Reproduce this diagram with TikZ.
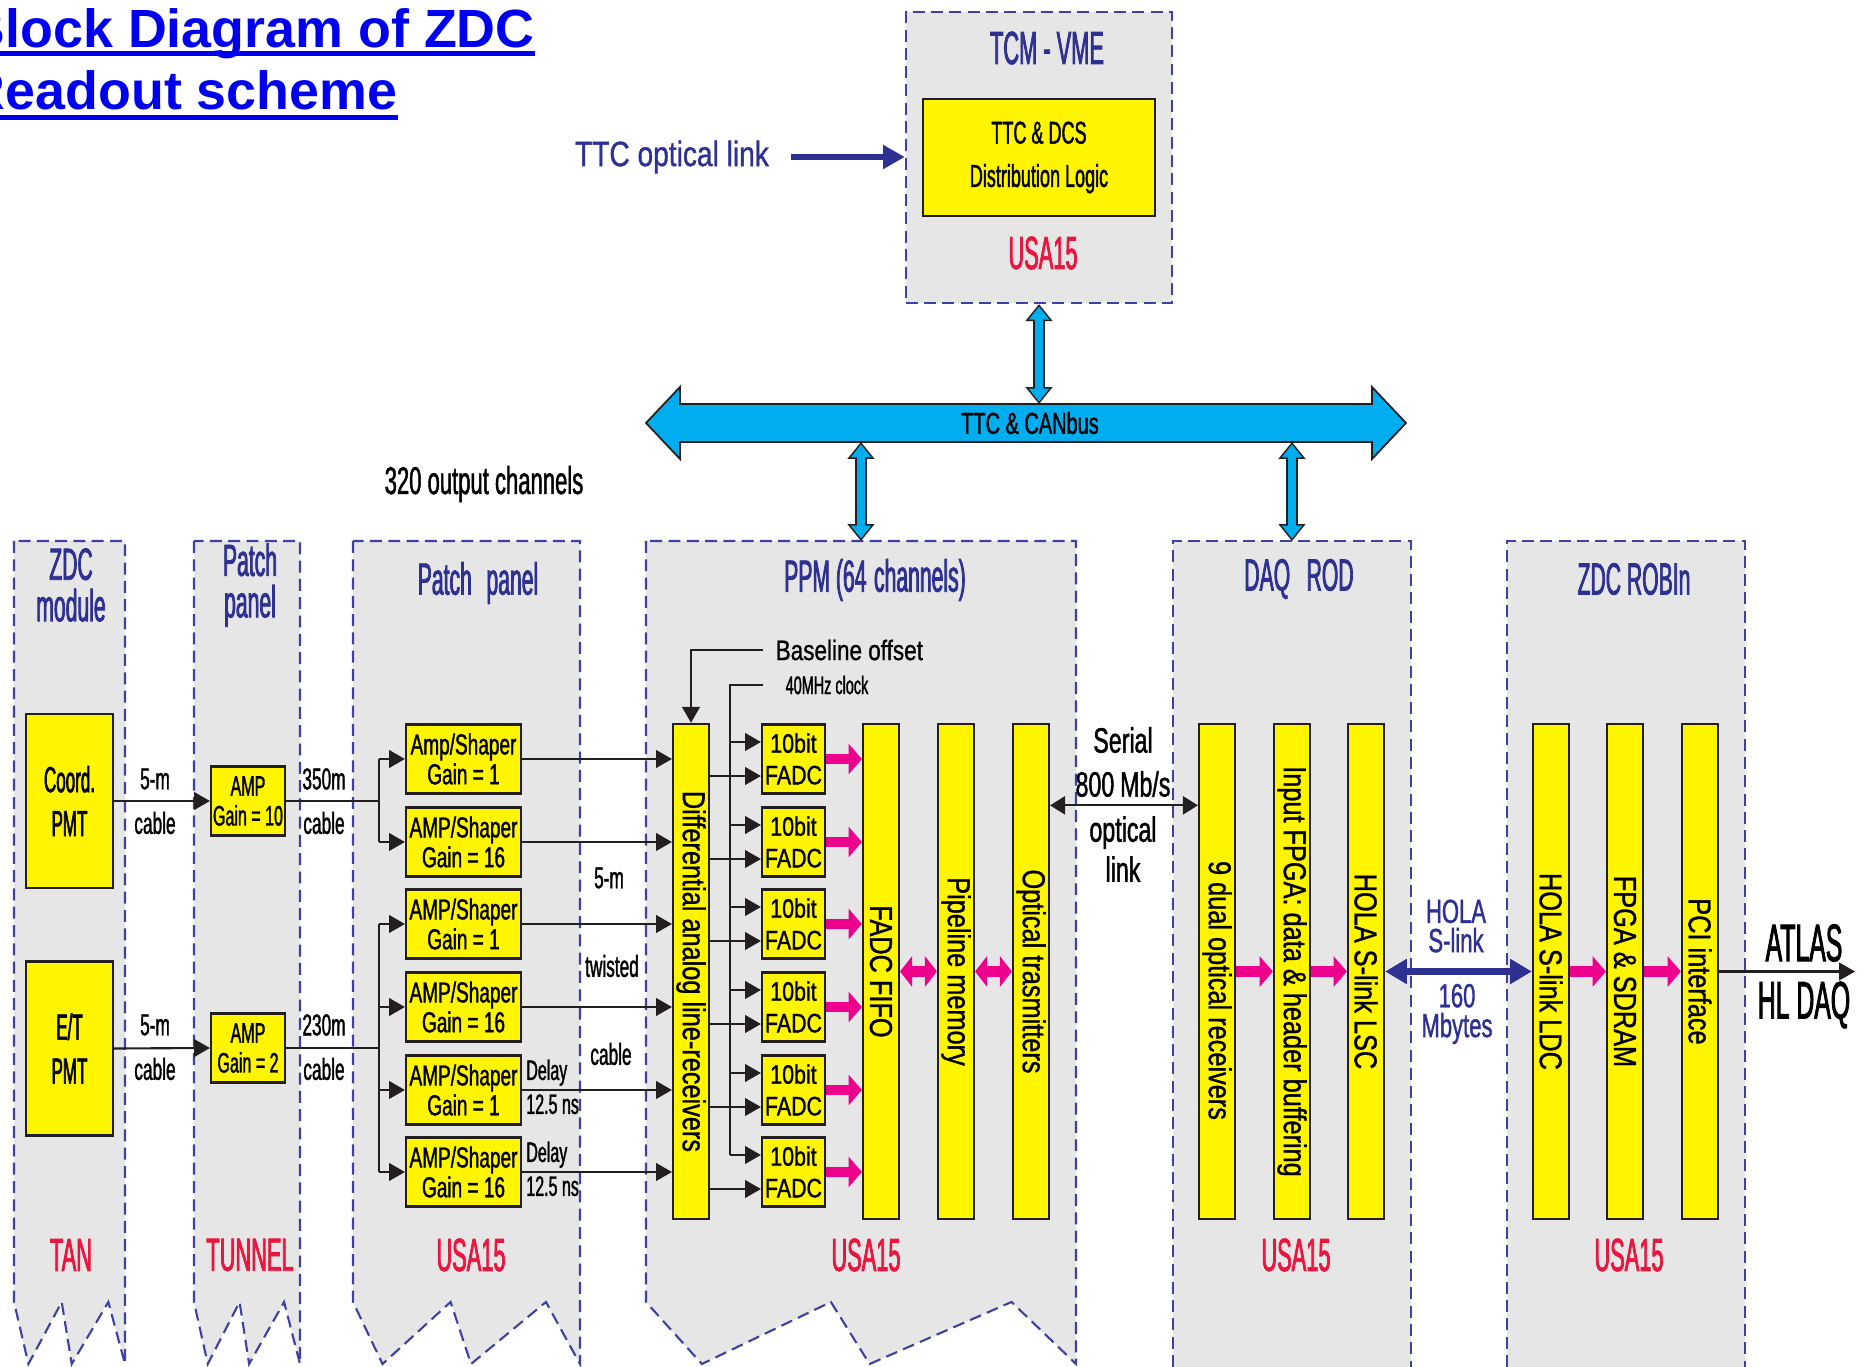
\documentclass[tikz,border=0pt]{standalone}
\usepackage{fontspec}
\setmainfont{Liberation Sans}[FakeStretch=0.47, FakeBold=1.6]
\newfontfamily\fntB{Liberation Sans}[FakeStretch=0.57, FakeBold=1.2]
\newfontfamily\fntC{Liberation Sans}[FakeStretch=0.66, FakeBold=1.2]
\newfontfamily\fntD{Liberation Sans}[FakeStretch=0.8, FakeBold=1.0]
\newfontfamily\titlefont{Liberation Sans}
\usetikzlibrary{arrows.meta, positioning, calc}
\definecolor{zgray}{HTML}{E6E6E6}
\definecolor{zdash}{HTML}{4040A0}
\definecolor{znavy}{HTML}{2E3192}
\definecolor{zred}{HTML}{E8173F}
\definecolor{zyellow}{HTML}{FFF500}
\definecolor{zline}{HTML}{231F20}
\definecolor{zmagenta}{HTML}{EC008C}
\definecolor{zcyan}{HTML}{00AEEF}
\definecolor{ztitle}{HTML}{0000EE}

\begin{document}
\begin{tikzpicture}[x=0.01cm, y=-0.01cm,
    colbox/.style={fill=zgray, draw=zdash, line width=0.6pt, dash pattern=on 3.4pt off 1.8pt},
    coldash/.style={draw=zdash, line width=0.6pt, dash pattern=on 3.4pt off 1.8pt},
    coltitle/.style={text=znavy, align=center, font=\rmfamily\fontsize{12.8}{11.8}\selectfont},
    site/.style={text=zred, font=\rmfamily\fontsize{13.2}{14}\selectfont},
    ybox/.style={rectangle, draw=zline, line width=0.6pt, fill=zyellow, align=center, inner sep=0pt},
    pmtbox/.style={ybox, minimum width=0.87cm, minimum height=1.74cm, font=\rmfamily\fontsize{10.3}{12.5}\selectfont},
    ampbox/.style={ybox, minimum width=0.74cm, minimum height=0.69cm, font=\fntB\fontsize{8}{8.5}\selectfont},
    shaper/.style={ybox, minimum width=1.15cm, minimum height=0.69cm, font=\fntC\fontsize{8.2}{8.5}\selectfont},
    fadc/.style={ybox, minimum width=0.63cm, minimum height=0.69cm, font=\fntD\fontsize{7.6}{9}\selectfont},
    tallbox/.style={ybox, minimum width=0.36cm, minimum height=4.95cm},
    bartext/.style={rotate=-90, font=\fntD\fontsize{9}{10}\selectfont},
    lbl/.style={font=\fntB\fontsize{8.6}{10}\selectfont, inner sep=0pt},
    wire/.style={draw=zline, line width=0.6pt},
    arr/.style={wire, -{Triangle[length=4.5pt, width=5pt]}},
    dblarr/.style={wire, {Triangle[length=4.3pt, width=5.2pt]}-{Triangle[length=4.3pt, width=5.2pt]}},
    magarr/.style={draw=zmagenta, line width=3pt, -{Triangle[length=3.8pt, width=8.5pt]}},
    magdbl/.style={draw=zmagenta, line width=3pt, {Triangle[length=3.4pt, width=8.5pt]}-{Triangle[length=3.4pt, width=8.5pt]}},
    navyarr/.style={draw=znavy, line width=1.6pt, -{Triangle[length=6.2pt, width=6.5pt]}},
    navydbl/.style={draw=znavy, line width=2pt, {Triangle[length=6.2pt, width=6.8pt]}-{Triangle[length=6.2pt, width=6.8pt]}},
    cyanrim/.style={draw=zline, line width=3.2pt, {Triangle[length=4.8pt, width=7.4pt]}-{Triangle[length=4.8pt, width=7.4pt]}},
    cyancore/.style={draw=zcyan, line width=2.2pt, shorten >=0.7pt, shorten <=0.7pt, {Triangle[length=3.7pt, width=5.6pt]}-{Triangle[length=3.7pt, width=5.6pt]}}
]
\useasboundingbox (0,0) rectangle (1865,1367);

% title
\node[anchor=base west, inner sep=0pt, text=ztitle, font=\titlefont\bfseries\fontsize{15.3}{18}\selectfont] (title1) at (-34,48) {Block Diagram of ZDC};
\node[anchor=base west, inner sep=0pt, text=ztitle, font=\titlefont\bfseries\fontsize{15.3}{18}\selectfont] (title2) at (-34,110) {Readout scheme};
\fill[ztitle] ([yshift=-0.85pt]title1.base west) rectangle ([yshift=-2.3pt]title1.base east);
\fill[ztitle] ([yshift=-1.4pt]title2.base west) rectangle ([yshift=-2.85pt]title2.base east);

% column backgrounds
\foreach \xa/\xb in {14/125, 194/300, 353/580, 646/1076}
    \path[colbox] (\xa,541) -- (\xa,1302) -- ({\xa+0.13*(\xb-\xa)},1364) -- ({\xa+0.43*(\xb-\xa)},1302)
        -- ({\xa+0.52*(\xb-\xa)},1364) -- ({\xa+0.85*(\xb-\xa)},1302) -- (\xb,1364) -- (\xb,541) -- cycle;
\foreach \xa/\xb in {1173/1411, 1507/1745} {
    \fill[zgray] (\xa,541) rectangle (\xb,1367);
    \draw[coldash] (\xa,1367) -- (\xa,541) -- (\xb,541) -- (\xb,1367);
}
\coordinate (ppmtop) at (861,541);
\coordinate (daqtop) at (1292,541);

\node[coltitle] (zdct) at (71,585) {ZDC\\module};
\node[coltitle] (ppat) at (250,585) {Patch\\panel};
\node[coltitle] (ppbt) at (478,583) {Patch\hspace{2.5pt} panel};
\node[coltitle] (ppmt) at (875,580) {PPM (64\,channels)};
\node[coltitle] (rodt) at (1299,579) {DAQ\hspace{3pt} ROD};
\node[coltitle] (robt) at (1634,579) {ZDC ROBIn};
\node[site] (s1) at (71,1255) {TAN};
\node[site] (s2) at (250,1255) {TUNNEL};
\node[site] (s3) at (471,1255) {USA15};
\node[site] (s4) at (866,1255) {USA15};
\node[site] (s5) at (1296,1255) {USA15};
\node[site] (s6) at (1629,1255) {USA15};

% TCM - VME
\node[colbox, rectangle, minimum width=2.66cm, minimum height=2.91cm, inner sep=0pt] (tcm) at (1039,157.5) {};
\node[coltitle, font=\rmfamily\fontsize{13.2}{14}\selectfont] (tcmt) at (1047,48) {TCM - VME};
\node[ybox, minimum width=2.32cm, minimum height=1.17cm, font=\fntB\fontsize{9}{12.3}\selectfont] (ttcdcs) at (1039,157.5) {TTC \& DCS\\Distribution Logic};
\node[site] (s0) at (1043,253) {USA15};
\node[text=znavy, font=\fntD\fontsize{10}{12}\selectfont] (ttclink) at (672,157) {TTC optical link};
\draw[navyarr] ([xshift=0.1cm]ttclink.east) -- (ttclink.east -| tcm.west);

% TTC & CANbus
\draw[zline, fill=zcyan, line width=0.5pt] (646,423) -- (680,387) -- (680,404) -- (1372,404) -- (1372,387)
    -- (1406,423) -- (1372,459) -- (1372,442) -- (680,442) -- (680,459) -- cycle;
\node[font=\fntC\fontsize{8.6}{10}\selectfont] (bus) at (1030,423) {TTC \& CANbus};
\coordinate (busN) at (1026,404);
\coordinate (busS) at (1026,442);
\draw[cyanrim] (tcm.south) -- (tcm.south |- busN);
\draw[cyancore] (tcm.south) -- (tcm.south |- busN);
\draw[cyanrim] (ppmtop |- busS) -- (ppmtop);
\draw[cyancore] (ppmtop |- busS) -- (ppmtop);
\draw[cyanrim] (daqtop |- busS) -- (daqtop);
\draw[cyancore] (daqtop |- busS) -- (daqtop);

\node[font=\fntB\fontsize{11}{12}\selectfont] (nch) at (484,484) {320 output channels};

% front end
\node[pmtbox] (pmt1) at (69.5,801) {Coord.\\PMT};
\node[pmtbox] (pmt2) at (69.5,1048.5) {E/T\\PMT};
\node[ampbox] (amp10) at (248,801) {AMP\\Gain = 10};
\node[ampbox] (amp2) at (248,1048) {AMP\\Gain = 2};
\draw[arr] (pmt1.east) -- (amp10.west);
\draw[arr] (pmt2.east) -- (amp2.west);
\node[lbl] (c1) at (155,779) {5-m};
\node[lbl] (c2) at (155,823) {cable};
\node[lbl] (c3) at (155,1025) {5-m};
\node[lbl] (c4) at (155,1069) {cable};
\node[lbl] (c5) at (324,779) {350m};
\node[lbl] (c6) at (324,823) {cable};
\node[lbl] (c7) at (324,1025) {230m};
\node[lbl] (c8) at (324,1069) {cable};

\foreach \i/\y/\a/\g in {1/759/Amp/1, 2/842/AMP/16, 3/924/AMP/1, 4/1007/AMP/16, 5/1090/AMP/1, 6/1172/AMP/16}
    \node[shaper] (as\i) at (463.5,\y) {\a/Shaper\\Gain = \g};
\draw[wire] (amp10.east) -- ++(93,0) coordinate (br1);
\draw[wire] (br1 |- as1.west) -- (br1 |- as2.west);
\draw[wire] (amp2.east) -- ++(93,0) coordinate (br2);
\draw[wire] (br2 |- as3.west) -- (br2 |- as6.west);
\foreach \n in {1,2} \draw[arr] (br1 |- as\n.west) -- (as\n.west);
\foreach \n in {3,...,6} \draw[arr] (br2 |- as\n.west) -- (as\n.west);
\foreach \n in {5,6} {
    \node[lbl, font=\fntB\fontsize{8}{9}\selectfont, anchor=south west, inner sep=1pt] (dl\n) at (as\n.east) {Delay};
    \node[lbl, font=\fntB\fontsize{8}{9}\selectfont, anchor=north west, inner sep=1pt] (ns\n) at (as\n.east) {12.5 ns};
}
\node[lbl] (g1) at (609,878) {5-m};
\node[lbl] (g2) at (612,966) {twisted};
\node[lbl] (g3) at (611,1054) {cable};

% PPM
\node[tallbox] (diff) at (691,971.5) {};
\node[bartext] (difft) at (diff) {Differential analog line-receivers};
\node[tallbox] (fifo) at (881,971.5) {};
\node[bartext] (fifot) at (fifo) {FADC FIFO};
\node[tallbox] (pipe) at (956,971.5) {};
\node[bartext] (pipet) at (pipe) {Pipeline memory};
\node[tallbox] (optic) at (1031,971.5) {};
\node[bartext] (optict) at (optic) {Optical trasmitters};
\foreach \n in {1,...,6}
    \draw[arr] (as\n.east) -- (as\n.east -| diff.west);

\foreach \i/\y in {1/759, 2/842, 3/924, 4/1007, 5/1090, 6/1172}
    \node[fadc] (fadc\i) at (793.5,\y) {10bit\\FADC};

\node[anchor=west, inner xsep=0.12cm, inner ysep=0pt, font=\fntD\fontsize{8}{9}\selectfont] (baseline) at (763,650) {Baseline offset};
\draw[arr] (baseline.west) -| (diff.north);
\node[anchor=west, inner xsep=0.22cm, inner ysep=0pt, font=\fntB\fontsize{7.2}{8}\selectfont] (clock) at (763,685) {40MHz clock};
\coordinate (clk) at (730,687);
\foreach \i in {1,...,6} {
    \coordinate (ft\i) at ([yshift=0.17cm]fadc\i.west);
    \coordinate (fb\i) at ([yshift=-0.17cm]fadc\i.west);
    \draw[arr] (clk |- ft\i) -- (ft\i);
    \draw[arr] (fb\i -| diff.east) -- (fb\i);
    \draw[magarr] (fadc\i.east) -- (fadc\i.east -| fifo.west);
}
\draw[wire] (clock.west) -| (clk |- ft6);
\draw[magdbl] (fifo.east) -- (pipe.west);
\draw[magdbl] (pipe.east) -- (optic.west);

% DAQ ROD
\node[tallbox] (dual) at (1217,971.5) {};
\node[bartext] (dualt) at ([yshift=-0.19cm]dual.center) {9 dual optical receivers};
\node[tallbox] (infpga) at (1292,971.5) {};
\node[bartext] (infpgat) at (infpga) {Input FPGA: data \& header buffering};
\node[tallbox] (lsc) at (1366,971.5) {};
\node[bartext] (lsct) at (lsc) {HOLA S-link LSC};
\draw[magarr] (dual.east) -- (infpga.west);
\draw[magarr] (infpga.east) -- (lsc.west);

\draw[dblarr] ($(optic.north east)!0.166!(optic.south east)$) -- ($(dual.north west)!0.166!(dual.south west)$);
\node[align=center, inner sep=0pt, font=\fntC\fontsize{10}{12.5}\selectfont] (ser1) at (1123,762) {Serial\\800\,Mb/s};
\node[align=center, inner sep=0pt, font=\fntC\fontsize{10}{11.4}\selectfont] (ser2) at (1123,849) {optical\\link};

% ZDC ROBIn
\node[tallbox] (ldc) at (1551,971.5) {};
\node[bartext] (ldct) at (ldc) {HOLA S-link LDC};
\node[tallbox] (sdram) at (1625,971.5) {};
\node[bartext] (sdramt) at (sdram) {FPGA \& SDRAM};
\node[tallbox] (pci) at (1700,971.5) {};
\node[bartext] (pcit) at (pci) {PCI interface};
\draw[magarr] (ldc.east) -- (sdram.west);
\draw[magarr] (sdram.east) -- (pci.west);

\draw[navydbl] (lsc.east) -- (ldc.west);
\node[align=center, inner sep=0pt, text=znavy, font=\fntC\fontsize{9.5}{8.3}\selectfont] (hola) at (1456,926) {HOLA\\S-link};
\node[align=center, inner sep=0pt, text=znavy, font=\fntC\fontsize{9.5}{8.5}\selectfont] (rate) at (1457,1014) {160\\Mbytes};

\coordinate (hldaq) at (1855,971.5);
\draw[arr] (pci.east) -- (hldaq);
\node[font=\rmfamily\fontsize{15}{16}\selectfont] (atlas) at (1804,943) {ATLAS};
\node[font=\rmfamily\fontsize{15}{16}\selectfont] (hl) at (1804,1005) {HL DAQ};
\end{tikzpicture}
\end{document}
